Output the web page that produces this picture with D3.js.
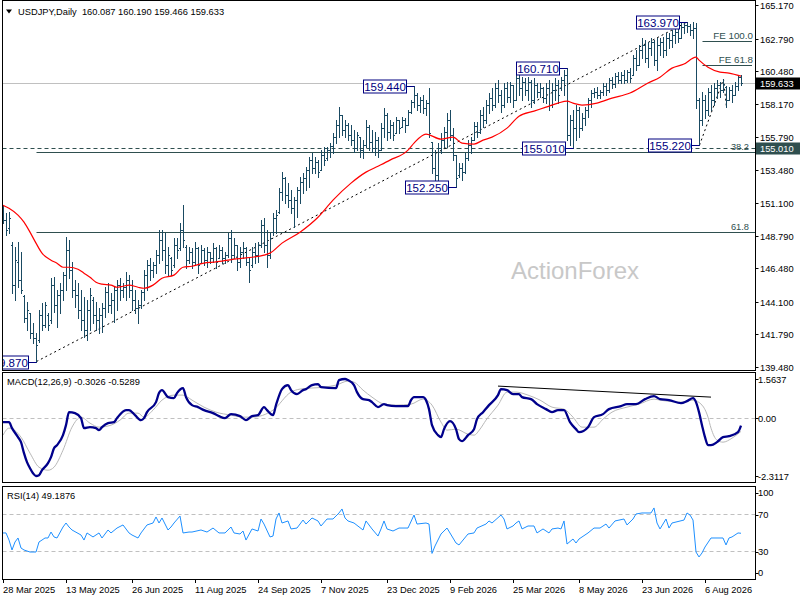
<!DOCTYPE html>
<html><head><meta charset="utf-8">
<script src="https://cdn.jsdelivr.net/npm/d3@7"></script>
<style>
html,body{margin:0;padding:0;background:#fff;}
svg{display:block;font-family:"Liberation Sans",Arial,sans-serif;}
</style></head><body>
<svg id="c" width="800" height="600"></svg>
<script>
// ---------- DATA ----------
const symbolTitle = "USDJPY,Daily  160.087 160.190 159.466 159.633";
const macdTitle = "MACD(12,26,9) -0.3026 -0.5289";
const rsiTitle = "RSI(14) 49.1876";

const opens = [
150.75,149.90,149.33,148.12,145.29,146.92,145.64,144.50,142.94,143.30,
141.88,141.52,141.38,143.16,142.45,143.16,142.80,145.29,143.87,144.58,
144.93,146.00,147.77,146.35,144.93,144.58,143.51,142.80,142.09,143.51,
144.22,143.16,142.80,143.16,143.65,144.79,143.87,144.22,144.93,145.29,
144.93,145.14,145.64,144.93,144.22,143.65,143.87,144.79,146.00,146.71,
146.35,146.71,147.42,148.48,147.77,146.71,147.20,146.71,148.12,147.91,
149.19,147.98,147.06,147.63,146.92,147.91,146.85,147.77,147.06,147.63,
147.20,147.91,147.20,147.77,147.20,147.42,148.62,147.42,148.12,146.92,
147.63,147.91,146.92,146.71,147.63,147.42,148.12,149.55,148.12,147.42,
149.05,150.04,150.47,151.89,152.88,151.68,151.32,150.75,151.32,152.03,
152.60,152.88,153.45,154.16,153.59,154.02,153.45,154.52,154.30,154.87,
155.15,155.79,156.65,157.36,156.29,156.65,155.94,155.58,155.01,155.79,
154.87,155.23,156.50,155.44,155.01,155.58,154.87,156.43,157.36,156.15,
156.65,156.08,157.00,156.50,157.00,156.65,157.57,158.28,158.78,158.07,
158.42,157.85,158.21,155.44,153.59,153.09,155.01,155.58,156.15,157.00,
155.94,154.52,153.09,153.59,153.31,154.30,155.23,155.58,156.57,156.15,
157.36,157.00,158.07,158.56,158.07,159.27,158.78,158.07,159.27,158.63,
159.49,158.42,159.98,159.27,159.70,159.13,159.70,158.42,159.49,158.99,
159.27,158.56,159.27,158.07,159.13,159.49,159.27,159.84,160.20,155.94,
157.00,156.43,157.71,156.43,157.14,157.71,158.42,158.92,158.99,158.78,
158.99,159.41,159.13,159.84,159.56,160.12,159.84,160.20,159.84,160.41,
160.20,161.40,160.91,161.97,162.33,161.40,162.11,162.54,161.26,162.33,
162.54,161.97,162.82,162.68,163.04,163.25,162.82,163.60,163.75,163.67,
163.40,163.53,158.42,157.00,158.42,157.71,158.99,158.42,159.27,159.49,
159.13,159.35,158.42,159.13,158.78,159.41,160.087];

const highs = [
150.96,150.40,150.47,148.34,147.98,148.34,147.63,144.58,144.08,143.30,
142.59,141.88,143.51,144.01,144.08,143.30,145.78,145.85,144.93,145.43,
146.21,148.69,148.48,146.92,145.64,145.43,144.93,144.43,144.22,145.07,
144.43,144.08,143.65,144.01,145.14,145.43,144.72,145.14,145.64,145.78,
145.43,146.21,146.00,145.64,144.93,144.22,144.93,146.35,147.06,147.20,
146.92,147.77,149.19,149.19,148.98,147.98,147.27,148.62,148.62,149.69,
150.96,148.12,147.98,147.91,148.34,147.98,148.12,147.91,147.98,147.63,
148.27,147.98,148.12,147.98,147.63,148.98,149.19,148.62,148.12,147.98,
148.34,147.98,147.27,147.98,148.27,148.34,149.90,150.04,149.19,148.98,
150.40,150.61,152.17,153.31,152.95,152.53,152.03,151.53,152.24,152.95,
153.24,153.66,154.37,154.66,154.37,154.16,154.87,155.08,155.08,155.37,
156.08,157.00,157.92,157.36,157.00,156.79,156.65,156.29,156.15,155.79,
155.58,157.00,156.65,156.29,156.15,155.79,156.79,157.85,157.50,157.00,
156.86,157.21,157.00,157.21,157.14,157.71,158.42,159.44,158.92,158.63,
158.78,158.42,159.27,155.44,154.87,155.37,156.08,156.50,157.50,157.71,
156.43,154.52,153.95,153.95,154.66,155.58,155.79,156.86,156.86,157.71,
157.92,158.42,158.92,159.27,159.63,159.84,159.13,159.63,159.70,159.70,
159.49,160.34,160.55,160.05,159.98,160.05,159.84,159.98,159.63,159.63,
159.34,159.63,159.84,159.63,159.98,159.84,160.05,160.55,160.71,157.36,
157.71,158.07,157.92,157.50,157.92,158.56,159.13,159.27,159.34,159.13,
159.63,159.63,159.98,160.05,160.34,160.41,160.41,160.55,160.55,160.69,
161.62,161.97,162.33,162.82,162.68,162.54,162.82,162.68,162.82,162.82,
162.89,163.18,163.18,163.39,163.53,163.60,163.89,163.89,163.97,163.82,
163.93,163.89,158.56,158.99,158.78,159.27,159.49,159.63,159.84,159.70,
159.91,159.40,159.34,159.49,159.70,160.10,160.19];

const lows = [
149.69,148.84,148.98,144.72,144.22,145.14,144.72,142.66,142.09,141.52,
141.17,139.87,141.24,142.09,142.30,142.09,142.59,143.37,142.30,143.30,
144.22,144.93,145.78,144.43,143.72,142.94,142.09,141.59,141.38,142.09,
142.59,142.09,141.88,141.95,143.01,143.37,143.30,142.66,143.51,144.22,
144.43,144.22,144.43,143.51,143.30,142.59,143.65,144.22,144.93,145.64,
145.85,146.14,146.85,147.06,146.14,146.00,146.00,146.56,147.20,147.77,
147.98,146.49,146.85,146.49,146.71,146.14,146.85,146.71,146.56,146.85,
146.92,146.49,147.20,146.85,146.85,147.27,146.92,147.20,146.35,146.56,
147.20,146.71,145.50,146.56,146.85,146.92,147.98,147.63,146.56,147.20,
148.84,148.98,150.40,151.32,151.11,150.82,150.40,149.40,150.11,151.11,
151.82,152.03,152.24,153.24,153.24,152.95,153.45,153.80,154.16,154.37,
154.66,155.37,155.79,155.94,155.79,155.58,155.23,154.73,154.87,154.37,
154.30,155.08,154.87,154.73,154.52,154.37,154.87,155.79,155.58,155.72,
155.58,156.08,156.08,156.50,156.15,156.65,157.50,157.92,157.71,157.57,
157.50,157.36,155.79,153.24,152.53,152.60,154.66,155.08,155.08,155.58,
154.16,152.25,152.95,152.74,153.24,154.16,154.66,155.58,155.79,156.08,
156.50,156.79,157.50,157.71,157.92,158.28,157.57,157.92,158.28,158.28,
157.92,158.42,158.78,158.42,158.78,158.42,157.92,158.21,158.63,158.63,
158.28,158.21,157.71,157.92,158.42,158.21,159.13,158.78,155.58,155.23,
155.01,155.58,155.79,156.29,156.65,157.21,157.92,158.63,158.56,158.56,
158.78,158.78,158.99,159.27,159.34,159.63,159.63,159.63,159.70,159.70,
160.20,160.55,160.91,161.40,161.12,160.76,161.62,160.91,160.55,161.62,
161.47,161.62,162.11,162.18,162.47,162.54,162.82,163.18,163.25,163.04,
162.82,157.85,155.22,156.65,157.14,157.36,157.71,158.07,158.56,158.63,
158.99,157.92,158.42,158.28,158.78,159.13,159.466];

const closes = [
149.90,149.19,150.04,145.29,147.06,145.64,144.93,142.94,143.51,141.88,
141.52,141.02,143.16,142.45,143.87,142.45,145.29,143.87,144.58,144.93,
146.00,147.77,146.35,144.93,144.58,143.51,142.80,142.09,143.51,144.58,
143.16,142.80,143.16,143.65,144.79,143.87,144.22,144.93,145.29,144.93,
145.14,145.64,144.93,144.22,143.65,143.87,144.79,146.00,146.71,146.35,
146.71,147.42,148.48,147.77,146.71,147.42,146.35,148.12,147.77,149.19,
148.48,147.06,147.63,146.92,147.91,146.71,147.77,147.06,147.63,147.20,
147.91,146.92,147.77,147.20,147.42,148.62,147.42,148.12,146.92,147.63,
147.91,146.92,146.35,147.63,147.42,148.12,149.55,148.12,147.42,148.62,
150.04,150.26,151.89,152.88,151.68,151.32,150.75,151.32,152.03,152.60,
152.88,153.45,154.16,153.59,154.02,153.31,154.52,154.16,154.87,155.15,
155.79,156.65,157.36,156.29,156.65,155.94,155.58,155.01,155.94,154.87,
155.23,156.50,155.44,155.01,155.58,154.87,156.43,157.36,156.15,156.65,
155.94,157.00,156.43,157.00,156.65,157.57,158.28,158.78,158.07,158.42,
157.85,158.21,156.08,153.59,153.09,155.01,155.58,156.15,157.00,155.94,
154.52,152.88,153.59,153.31,154.30,155.23,155.58,156.57,156.15,157.36,
157.00,158.07,158.56,158.07,159.27,158.78,158.07,159.27,158.63,159.49,
158.42,159.98,159.27,159.70,159.13,159.70,158.42,159.49,158.99,159.27,
158.56,159.27,158.07,159.13,159.49,158.78,159.84,160.20,155.94,157.00,
156.43,157.71,156.43,157.14,157.71,158.42,158.92,158.99,158.78,158.99,
159.41,159.13,159.84,159.56,160.12,159.84,160.20,159.84,160.41,159.98,
161.40,160.91,161.97,162.33,161.40,162.11,162.54,161.26,162.33,162.54,
161.97,162.82,162.68,163.04,163.25,162.82,163.60,163.75,163.67,163.40,
163.53,158.42,157.00,158.42,157.71,158.99,158.42,159.27,159.49,159.13,
159.56,158.42,159.13,158.78,159.41,160.05,159.633];

// moving average: [bar index, value]
const maPoints = [[0,150.96],[2,150.75],[5,150.26],[7,149.76],[9,149.05],[11,148.27],[13,147.56],[16,147.06],[18,146.85],[20,146.56],
[22,146.56],[25,146.42],[27,146.14],[29,145.85],[31,145.50],[33,145.36],[36,145.29],[38,145.14],[40,145.21],[42,145.29],
[45,145.14],[47,145.07],[50,145.29],[53,145.78],[57,146.00],[60,146.56],[63,146.63],[67,146.85],[70,146.92],[73,146.99],
[77,147.13],[80,147.20],[83,147.27],[87,147.42],[89,147.56],[93,148.27],[99,149.05],[105,150.11],[110,151.32],[116,152.53],
[121,153.31],[125,153.73],[129,154.16],[135,154.87],[137,155.37],[141,156.01],[146,155.65],[150,155.79],[153,155.37],[157,155.30],
[160,155.58],[163,155.79],[168,156.43],[172,157.28],[177,157.64],[181,157.92],[185,158.21],[188,158.35],[190,158.21],[193,158.07],
[198,158.21],[203,158.56],[209,158.92],[215,159.63],[219,160.05],[223,160.69],[227,160.98],[231,161.47],[232,161.26],[235,160.76],
[239,160.41],[242,160.34],[246,160.12]];

const macdPoints = [[0,-0.16],[2,-0.16],[3,-0.40],[5,-0.76],[6,-0.96],[7,-1.40],[8,-1.76],[9,-2.00],[10,-2.20],[11,-2.3117],
[12,-2.28],[13,-2.08],[15,-1.80],[16,-1.56],[17,-1.20],[18,-1.08],[20,-0.68],[21,-0.28],[22,0.24],[24,0.20],
[26,0.00],[27,-0.40],[29,-0.36],[31,-0.40],[32,-0.48],[33,-0.36],[35,-0.20],[37,-0.16],[38,0.00],[41,0.32],
[42,0.32],[44,0.12],[46,-0.08],[47,0.00],[48,0.24],[51,0.64],[52,1.00],[53,1.12],[55,0.84],[57,0.80],
[58,1.00],[60,1.20],[61,0.84],[63,0.52],[65,0.44],[67,0.32],[70,0.20],[72,0.08],[74,0.00],[76,0.16],
[79,0.08],[81,-0.08],[83,0.08],[85,0.12],[87,0.44],[88,0.32],[90,0.12],[91,0.52],[93,1.16],[95,1.32],
[96,1.12],[98,0.96],[100,1.12],[101,1.16],[103,1.32],[105,1.36],[106,1.24],[111,1.20],[112,1.52],[114,1.5637],
[115,1.52],[117,1.32],[118,1.04],[120,0.76],[122,0.72],[123,0.64],[125,0.44],[127,0.56],[128,0.52],[131,0.48],
[135,0.48],[136,0.72],[137,0.84],[140,0.84],[141,0.72],[142,0.36],[143,-0.28],[145,-0.68],[146,-0.76],[147,-0.44],
[149,-0.12],[151,-0.44],[152,-0.84],[153,-0.92],[155,-0.68],[157,-0.44],[158,-0.04],[160,0.24],[162,0.52],[165,0.92],
[166,1.16],[168,1.12],[170,0.96],[172,0.96],[173,0.84],[176,0.76],[178,0.56],[181,0.36],[183,0.24],[185,0.32],
[187,0.32],[189,-0.16],[191,-0.44],[192,-0.56],[195,-0.36],[197,0.04],[200,0.16],[202,0.36],[206,0.48],[208,0.56],
[211,0.56],[214,0.76],[217,0.88],[219,0.76],[222,0.72],[226,0.60],[228,0.68],[230,0.80],[231,0.64],[232,0.24],
[233,-0.28],[234,-0.76],[235,-1.08],[236,-1.08],[238,-0.96],[240,-0.76],[242,-0.72],[245,-0.56],[246,-0.3026]];

const signalPoints = [[0,-0.68],[2,-0.40],[6,-0.76],[9,-1.40],[12,-1.96],[15,-2.08],[17,-1.96],[20,-1.28],[23,-0.36],[26,0.04],
[29,-0.20],[32,-0.36],[36,-0.28],[39,-0.08],[42,0.20],[45,0.20],[47,0.04],[50,0.32],[53,0.72],[57,0.92],
[60,0.92],[63,0.72],[67,0.44],[71,0.24],[76,0.12],[80,0.04],[83,0.04],[90,0.32],[96,1.04],[99,1.16],
[107,1.24],[111,1.32],[115,1.48],[117,1.44],[120,1.12],[123,0.84],[127,0.56],[131,0.52],[136,0.56],[140,0.76],
[143,0.52],[146,-0.16],[148,-0.48],[151,-0.44],[155,-0.64],[157,-0.68],[159,-0.44],[161,-0.08],[165,0.52],[168,1.04],
[171,1.04],[175,0.92],[179,0.72],[183,0.44],[187,0.36],[190,0.04],[193,-0.36],[197,-0.36],[200,-0.04],[203,0.24],
[208,0.44],[212,0.56],[217,0.76],[219,0.72],[226,0.64],[230,0.72],[233,0.52],[235,0.04],[236,-0.40],[238,-0.88],
[240,-0.96],[243,-0.80],[246,-0.5289]];

const rsiPoints = [[0,49.5],[1,49.5],[2,41.9],[3,31.2],[4,39.8],[5,44.1],[6,33.3],[7,31.2],[9,29.0],[11,29.0],
[12,39.8],[13,41.9],[14,44.1],[15,44.1],[16,50.5],[17,45.2],[18,44.1],[20,55.9],[21,60.2],[22,55.9],
[23,52.7],[26,47.3],[27,41.9],[28,49.5],[30,45.2],[32,49.5],[33,44.1],[35,52.7],[36,49.5],[38,54.8],
[40,58.1],[42,49.5],[43,47.3],[45,44.1],[46,49.5],[48,58.1],[50,60.2],[51,66.7],[52,60.2],[53,65.6],
[55,52.7],[56,55.9],[57,60.2],[59,67.7],[60,49.5],[62,50.5],[63,50.5],[66,52.7],[68,50.5],[70,54.8],
[72,49.5],[74,49.5],[76,55.9],[77,49.5],[79,48.4],[80,51.6],[81,41.9],[83,53.8],[85,51.6],[86,64.5],
[87,59.1],[89,45.2],[90,46.2],[91,64.5],[92,71.0],[93,60.2],[95,62.4],[96,53.8],[98,54.8],[100,63.4],
[101,59.1],[103,65.6],[105,62.4],[106,57.0],[108,64.5],[110,64.5],[112,71.0],[113,75.3],[114,65.6],[115,62.4],
[117,60.2],[120,52.7],[121,62.4],[123,53.8],[125,46.2],[126,53.8],[127,62.4],[128,53.8],[130,51.6],[132,54.8],
[135,54.8],[137,68.8],[138,59.1],[141,60.2],[142,59.1],[143,27.5],[144,35.5],[146,48.4],[148,54.8],[151,38.7],
[152,36.6],[155,48.4],[157,49.5],[158,54.8],[161,59.1],[162,62.4],[163,60.2],[166,68.8],[167,64.5],[168,53.8],
[170,57.0],[171,60.2],[172,62.4],[173,53.8],[175,57.0],[177,57.0],[178,49.5],[180,53.8],[182,49.5],[183,53.8],
[185,54.8],[186,53.8],[187,62.4],[188,37.6],[190,43.0],[191,38.7],[192,43.0],[195,49.5],[197,54.8],[199,54.8],
[201,59.1],[202,54.8],[204,62.4],[207,64.5],[208,58.1],[210,64.5],[211,69.9],[213,71.0],[216,71.0],[217,76.4],
[218,60.2],[219,53.8],[221,64.5],[222,54.8],[223,60.2],[227,63.4],[228,71.0],[229,68.8],[230,63.4],[231,29.0],
[232,23.7],[233,28.0],[234,34.4],[236,44.1],[238,44.1],[240,44.1],[241,36.6],[242,44.1],[243,45.2],[245,49.5],
[246,49.19]];

const macdTrend = [[165,1.28],[236,0.84]];

const priceTicks = [165.170,162.790,160.480,158.170,155.790,153.480,151.100,148.790,146.480,144.100,141.790,139.480];
const macdTicks = [1.5637,0.00,-2.3117];
const macdTickLabels = ["1.5637","0.00","-2.3117"];
const rsiLevels = [70,30];
const rsiTickLabels = ["100","70","30","0"];
const dateLabels = ["28 Mar 2025","13 May 2025","26 Jun 2025","11 Aug 2025","24 Sep 2025","7 Nov 2025","23 Dec 2025","9 Feb 2026","25 Mar 2026","8 May 2026","23 Jun 2026","6 Aug 2026"];
const dateBars = [0,21,43,64,85,106,128,149,170,192,213,234];

const swingTexts = ["163.970","160.710","159.440","152.250","155.010","155.220","139.870"];
const swingBars = [228,188,137,151,190,232,11];
const swingPrices = [163.97,160.71,159.44,152.25,155.01,155.22,139.87];

const fibAnchorBars = [11,228];
const fibAnchorPrices = [139.87,163.97];
const fibLabels = ["38.2","61.8"];
const fibPrices = [154.76,149.08];

const feLabels = ["FE 100.0","FE 61.8"];
const fePrices = [162.61,160.90];
const feStartBar = 233;
const feBars = [232,240,241];
const fePointPrices = [155.22,159.91,157.92];

const supportLevel = 155.010;
const lastPrice = 159.633;

// ---------- DRAW ----------
const svg = d3.select("#c");
const font = "Liberation Sans, Arial, sans-serif";
const L = 2.5, R = 755.5;
const P = {top:0.5, bot:370.5}, M = {top:372.5, bot:482.5}, Rs = {top:486.5, bot:579.5};

const x = d3.scaleLinear().domain([0,246]).range([3,741]);
const yP = d3.scaleLinear().domain([139.48,165.17]).range([367,5]);
const yM = d3.scaleLinear().domain([-2.3117,1.5637]).range([476,379]);
const yR = d3.scaleLinear().domain([0,100]).range([579,486]);
const px = i => Math.round(x(i)) + 0.5;

svg.append("rect").attr("width",800).attr("height",600).attr("fill","#fff");

const defs = svg.append("defs");
defs.append("clipPath").attr("id","cp").append("rect").attr("x",3).attr("y",1).attr("width",752).attr("height",369);
defs.append("clipPath").attr("id","cm").append("rect").attr("x",3).attr("y",373).attr("width",752).attr("height",109);
defs.append("clipPath").attr("id","cr").append("rect").attr("x",3).attr("y",487).attr("width",752).attr("height",92);

// watermark
svg.append("text").attr("x",575).attr("y",279).attr("text-anchor","middle")
  .attr("font-family",font).attr("font-size",24).attr("fill","#c8c8c8").text("ActionForex");

const gp = svg.append("g").attr("clip-path","url(#cp)");

// current price line
gp.append("line").attr("x1",L).attr("x2",R).attr("y1",Math.round(yP(lastPrice))+0.5).attr("y2",Math.round(yP(lastPrice))+0.5)
  .attr("stroke","#c0c0c0").attr("stroke-width",1);

// support dashed line
gp.append("line").attr("x1",L).attr("x2",R).attr("y1",Math.round(yP(supportLevel))+0.5).attr("y2",Math.round(yP(supportLevel))+0.5)
  .attr("stroke","#2f4f4f").attr("stroke-width",1).attr("stroke-dasharray","4,3");

// fib levels
fibPrices.forEach((p,k)=>{
  const yy = Math.round(yP(p))+0.5;
  gp.append("line").attr("x1",px(fibAnchorBars[0])).attr("x2",R).attr("y1",yy).attr("y2",yy)
    .attr("stroke","#2f4f4f").attr("stroke-width",1);
  gp.append("text").attr("x",749).attr("y",yy-2.5).attr("text-anchor","end")
    .attr("font-family",font).attr("font-size",9.3).attr("fill","#2f4f4f").text(fibLabels[k]);
});
// fib diagonal
gp.append("line").attr("x1",px(fibAnchorBars[0])).attr("y1",yP(fibAnchorPrices[0]))
  .attr("x2",px(fibAnchorBars[1])).attr("y2",yP(fibAnchorPrices[1]))
  .attr("stroke","#000").attr("stroke-width",1).attr("stroke-dasharray","2,3");

// FE levels
fePrices.forEach((p,k)=>{
  const yy = Math.round(yP(p))+0.5;
  gp.append("line").attr("x1",px(feStartBar)).attr("x2",752).attr("y1",yy).attr("y2",yy)
    .attr("stroke","#2f4f4f").attr("stroke-width",1);
  gp.append("text").attr("x",753).attr("y",yy-3).attr("text-anchor","end")
    .attr("font-family",font).attr("font-size",9.8).attr("fill","#2f4f4f").text(feLabels[k]);
});
gp.append("path").attr("d",d3.line()(feBars.map((b,k)=>[px(b),yP(fePointPrices[k])])))
  .attr("fill","none").attr("stroke","#000").attr("stroke-width",1).attr("stroke-dasharray","2,3");

// bars
const barColor = "#1a4a62";
const gb = gp.append("g").attr("fill",barColor);
highs.forEach((h,i)=>{
  const xx = Math.round(x(i));
  const yh = Math.round(yP(h)), yl = Math.round(yP(lows[i]));
  gb.append("rect").attr("x",xx).attr("y",yh).attr("width",1).attr("height",Math.max(1,yl-yh+1));
  gb.append("rect").attr("x",xx-1).attr("y",Math.round(yP(opens[i]))).attr("width",1).attr("height",1);
  gb.append("rect").attr("x",xx+1).attr("y",Math.round(yP(closes[i]))).attr("width",1).attr("height",1);
});

// MA line
gp.append("path").attr("d",d3.line().x(d=>x(d[0])).y(d=>yP(d[1])).curve(d3.curveMonotoneX)(maPoints))
  .attr("fill","none").attr("stroke","#ff0000").attr("stroke-width",1.2);

// swing labels
swingTexts.forEach((t,k)=>{
  const bx = px(swingBars[k]);
  const yy = Math.round(yP(swingPrices[k]))+0.5;
  const w = 43, h = 13;
  const right = bx - 8;
  gp.append("line").attr("x1",right).attr("x2",bx).attr("y1",yy).attr("y2",yy).attr("stroke","#000080").attr("stroke-width",1);
  gp.append("rect").attr("x",right-w).attr("y",yy-6.5).attr("width",w).attr("height",h)
    .attr("fill","#fff").attr("stroke","#000080").attr("stroke-width",1);
  gp.append("text").attr("x",right-w/2).attr("y",yy+4.2).attr("text-anchor","middle")
    .attr("font-family",font).attr("font-size",11.5).attr("fill","#000080").text(t);
});

// panel frames
[P,M,Rs].forEach(pn=>{
  svg.append("rect").attr("x",L).attr("y",pn.top).attr("width",R-L).attr("height",pn.bot-pn.top)
    .attr("fill","none").attr("stroke","#000").attr("stroke-width",1);
});

// price axis
priceTicks.forEach(t=>{
  const yy = Math.round(yP(t))+0.5;
  svg.append("line").attr("x1",R).attr("x2",R+3).attr("y1",yy).attr("y2",yy).attr("stroke","#000");
  svg.append("text").attr("x",760).attr("y",yy+3.3).attr("font-family",font).attr("font-size",9.3).attr("fill","#000").text(d3.format(".3f")(t));
});
// axis boxes
function axisBox(price, bg){
  const yy = Math.round(yP(price))+0.5;
  svg.append("rect").attr("x",756).attr("y",yy-6).attr("width",44).attr("height",12).attr("fill",bg);
  svg.append("text").attr("x",760).attr("y",yy+3.3).attr("font-family",font).attr("font-size",9.3).attr("fill","#fff").text(d3.format(".3f")(price));
}
axisBox(supportLevel,"#2f4f4f");
axisBox(lastPrice,"#000");

// header
svg.append("path").attr("d","M6,9.5 L12,9.5 L9,13.5 Z").attr("fill","#000");
svg.append("text").attr("x",18).attr("y",14.5).attr("font-family",font).attr("font-size",9.3).attr("fill","#000")
  .attr("xml:space","preserve").style("white-space","pre").text(symbolTitle);

// MACD panel
const gm = svg.append("g").attr("clip-path","url(#cm)");
gm.append("line").attr("x1",L).attr("x2",R).attr("y1",Math.round(yM(0))+0.5).attr("y2",Math.round(yM(0))+0.5)
  .attr("stroke","#c0c0c0").attr("stroke-dasharray","4,3");
gm.append("path").attr("d",d3.line().x(d=>x(d[0])).y(d=>yM(d[1])).curve(d3.curveMonotoneX)(signalPoints))
  .attr("fill","none").attr("stroke","#b8b8b8").attr("stroke-width",1);
gm.append("path").attr("d",d3.line().x(d=>x(d[0])).y(d=>yM(d[1])).curve(d3.curveMonotoneX)(macdPoints))
  .attr("fill","none").attr("stroke","#00008b").attr("stroke-width",2.3);
gm.append("line").attr("x1",x(macdTrend[0][0])).attr("y1",yM(macdTrend[0][1]))
  .attr("x2",x(macdTrend[1][0])).attr("y2",yM(macdTrend[1][1])).attr("stroke","#000").attr("stroke-width",1);
svg.append("text").attr("x",7).attr("y",385).attr("font-family",font).attr("font-size",9.3).attr("fill","#000").text(macdTitle);
macdTicks.forEach((t,k)=>{
  const yy = Math.round(yM(t))+0.5;
  svg.append("line").attr("x1",R).attr("x2",R+3).attr("y1",yy).attr("y2",yy).attr("stroke","#000");
  svg.append("text").attr("x",758).attr("y",yy+3.3).attr("font-family",font).attr("font-size",9.3).attr("fill","#000").text(macdTickLabels[k]);
});

// RSI panel
const gr = svg.append("g").attr("clip-path","url(#cr)");
rsiLevels.forEach(l=>{
  const yy = Math.round(yR(l))+0.5;
  gr.append("line").attr("x1",L).attr("x2",R).attr("y1",yy).attr("y2",yy).attr("stroke","#c0c0c0").attr("stroke-dasharray","4,3");
});
gr.append("path").attr("d",d3.line().x(d=>x(d[0])).y(d=>yR(d[1]))(rsiPoints))
  .attr("fill","none").attr("stroke","#1e90ff").attr("stroke-width",1);
svg.append("text").attr("x",7).attr("y",498.5).attr("font-family",font).attr("font-size",9.3).attr("fill","#000").text(rsiTitle);
const rsiLabelY = [492.5,515,551.5,572.5];
rsiTickLabels.forEach((t,k)=>{
  svg.append("line").attr("x1",R).attr("x2",R+3).attr("y1",Math.round(rsiLabelY[k])+0.5).attr("y2",Math.round(rsiLabelY[k])+0.5).attr("stroke","#000");
  svg.append("text").attr("x",758).attr("y",rsiLabelY[k]+3.3).attr("font-family",font).attr("font-size",9.3).attr("fill","#000").text(t);
});

// time axis
dateBars.forEach((b,k)=>{
  const xx = px(b);
  svg.append("line").attr("x1",xx).attr("x2",xx).attr("y1",579.5).attr("y2",583).attr("stroke","#000");
  svg.append("text").attr("x",xx-0.5).attr("y",593).attr("font-family",font).attr("font-size",9.3).attr("fill","#000").text(dateLabels[k]);
});
</script>
</body></html>
